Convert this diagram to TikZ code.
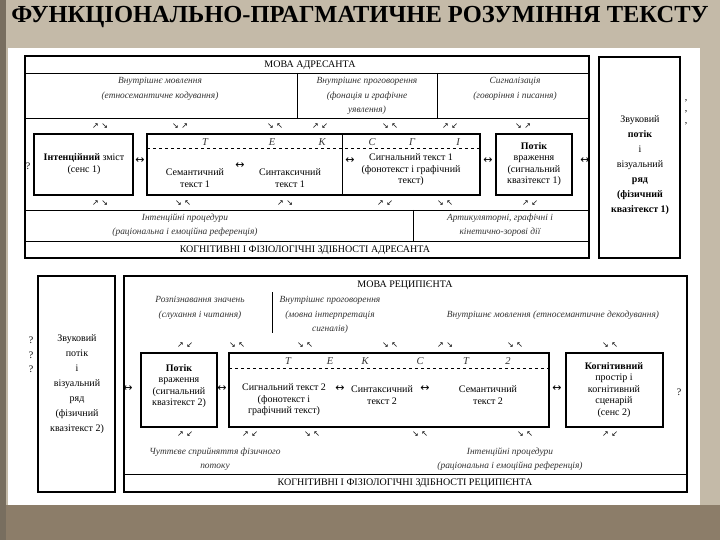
\documentclass[tikz,border=0pt]{standalone}
\usepackage{fontspec}
\setmainfont{Liberation Serif}
\newfontfamily\symf{DejaVu Sans}
\begin{document}
\begin{tikzpicture}[x=1pt,y=-1pt,
  box/.style={draw,line width=1.2pt},
  thin/.style={line width=0.6pt},
  t/.style={font=\fontsize{10}{11.5}\selectfont,align=center,inner sep=0pt},
  it/.style={font=\fontsize{9.4}{14.5}\itshape\selectfont,align=center,inner sep=0pt,text=black!80},
  ar/.style={font=\symf\fontsize{8}{8}\selectfont,inner sep=0pt},
  lr/.style={font=\symf\fontsize{11}{11}\selectfont,inner sep=0pt}]
\fill[color={rgb,255:red,196;green,186;blue,168}] (0,0) rectangle (720,540);
\fill[color={rgb,255:red,140;green,125;blue,105}] (0,505) rectangle (720,540);
\fill[color={rgb,255:red,120;green,110;blue,95}] (0,0) rectangle (6,540);
\fill[white] (8,48) rectangle (700,505);
\node[font=\bfseries\fontsize{24.5}{25}\selectfont,inner sep=0pt] (title) at (360,17) {ФУНКЦІОНАЛЬНО-ПРАГМАТИЧНЕ РОЗУМІННЯ ТЕКСТУ};
% ---------- top diagram
\draw[box] (25,56) rectangle (589,258);
\draw[thin] (25,73) -- (589,73) (25,118) -- (589,118) (25,210) -- (589,210) (25,241) -- (589,241);
\draw[thin] (297,73) -- (297,118) (437,73) -- (437,118) (413,210) -- (413,241);
\node[t] (h1) at (310,65) {МОВА АДРЕСАНТА};
\node[it] (r1a) at (160,89) {Внутрішнє мовлення\\(етносемантичне кодування)};
\node[it] (r1b) at (367,96) {Внутрішнє проговорення\\(фонація и графічне\\уявлення)};
\node[it] (r1c) at (515,89) {Сигналізація\\(говоріння і писання)};
\node[it] (r3a) at (185,225) {Інтенційні процедури\\(раціональна і емоційна референція)};
\node[it] (r3b) at (500,225) {Артикуляторні, графічні і\\кінетично-зорові дії};
\node[t] (f1) at (305,250) {КОГНІТИВНІ І ФІЗІОЛОГІЧНІ ЗДІБНОСТІ АДРЕСАНТА};
\draw[box] (34,134) rectangle (133,195);
\node[t] (b1) at (84,164) {\textbf{Інтенційний} зміст\\(сенс 1)};
\draw[box] (147,134) rectangle (480,195);
\draw[thin] (342,134) -- (342,195);
\draw[dashed,line width=1pt] (147,149) -- (480,149);
\node[t] (b2) at (195,178) {Семантичний\\текст 1};
\node[t] (b3) at (290,178) {Синтаксичний\\текст 1};
\node[t] (b4) at (411,170) {Сигнальний текст 1\\(фонотекст і графічний\\текст)};
\draw[box] (496,134) rectangle (572,195);
\node[t] (b5) at (534,164) {\textbf{Потік}\\враження\\(сигнальний\\квазітекст 1)};
\foreach \l/\x in {Т/205,Е/272,К/322,С/372,Г/412,І/458}
  \node[it,font=\fontsize{10.5}{11}\itshape\selectfont] (l\x) at (\x,142) {\l};
\draw[box] (599,57) rectangle (680,258);
\node[t,font=\fontsize{10}{15}\selectfont] (b6) at (640,165) {Звуковий\\\textbf{потік}\\і\\візуальний\\\textbf{ряд}\\\textbf{(фізичний}\\\textbf{квазітекст 1)}};
\node[t] (q1) at (28,166) {?};
\node[t] (q2) at (686,112) {,\\,\\,};
\foreach \s/\x in {↗ ↘/100,↘ ↗/180,↘ ↖/275,↗ ↙/320,↘ ↖/390,↗ ↙/450,↘ ↗/523}
  \node[ar] (ta\x) at (\x,126) {\s};
\foreach \s/\x in {↗ ↘/100,↘ ↖/183,↗ ↘/285,↗ ↙/385,↘ ↖/445,↗ ↙/530}
  \node[ar] (tb\x) at (\x,203) {\s};
\foreach \x/\y in {140/161,240/166,350/161,488/161,585/161}
  \node[lr] (tl\x) at (\x,\y) {↔};
% ---------- bottom diagram
\draw[box] (38,276) rectangle (115,492);
\node[t,font=\fontsize{10}{15}\selectfont] (c0) at (77,384) {Звуковий\\потік\\і\\візуальний\\ряд\\(фізичний\\квазітекст 2)};
\draw[box] (124,276) rectangle (687,492);
\draw[thin] (124,474) -- (687,474) (272,292) -- (272,333);
\node[t] (h2) at (405,285) {МОВА РЕЦИПІЄНТА};
\node[it] (s1) at (200,308) {Розпізнавання значень\\(слухання і читання)};
\node[it] (s2) at (330,315) {Внутрішнє проговорення\\(мовна інтерпретація\\сигналів)};
\node[it] (s3) at (553,315) {Внутрішнє мовлення (етносемантичне декодування)};
\node[it] (s4) at (215,459) {Чуттєве сприйняття фізичного\\потоку};
\node[it] (s5) at (510,459) {Інтенційні процедури\\(раціональна і емоційна референція)};
\node[t] (f2) at (405,483) {КОГНІТИВНІ І ФІЗІОЛОГІЧНІ ЗДІБНОСТІ РЕЦИПІЄНТА};
\draw[box] (141,353) rectangle (217,427);
\node[t] (c1) at (179,386) {\textbf{Потік}\\враження\\(сигнальний\\квазітекст 2)};
\draw[box] (229,353) rectangle (549,427);
\draw[dashed,line width=1pt] (229,368) -- (549,368);
\node[t] (c2) at (284,400) {Сигнальний текст 2\\(фонотекст і\\графічний текст)};
\node[t] (c3) at (382,395) {Синтаксичний\\текст 2};
\node[t] (c4) at (488,395) {Семантичний\\текст 2};
\foreach \l/\x in {Т/288,Е/330,К/365,С/420,Т/466,2/508}
  \node[it,font=\fontsize{10.5}{11}\itshape\selectfont] (m\x) at (\x,361) {\l};
\draw[box] (566,353) rectangle (663,427);
\node[t] (c5) at (614,390) {\textbf{Когнітивний}\\простір і\\когнітивний\\сценарій\\(сенс 2)};
\node[t] (q3) at (679,392) {?};
\node[t] (q4) at (31,355) {?\\[3pt]?\\[3pt]?};
\foreach \s/\x in {↗ ↙/185,↘ ↖/237,↘ ↖/305,↘ ↖/390,↗ ↘/445,↘ ↖/515,↘ ↖/610}
  \node[ar] (ba\x) at (\x,345) {\s};
\foreach \s/\x in {↗ ↙/185,↗ ↙/250,↘ ↖/312,↘ ↖/420,↘ ↖/525,↗ ↙/610}
  \node[ar] (bb\x) at (\x,434) {\s};
\foreach \x in {128,222,340,425,557}
  \node[lr] (bl\x) at (\x,389) {↔};
\end{tikzpicture}
\end{document}
